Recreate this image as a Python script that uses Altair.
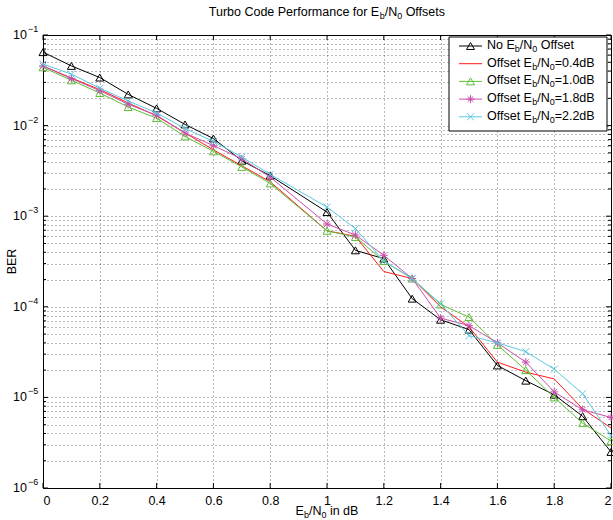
import altair as alt
import pandas as pd

# ---------------- data ----------------
x_vals = [0.0, 0.1, 0.2, 0.3, 0.4, 0.5, 0.6, 0.7, 0.8, 1.0,
          1.1, 1.2, 1.3, 1.4, 1.5, 1.6, 1.7, 1.8, 1.9, 2.0]
ber_no_offset = [0.0647, 0.0456, 0.0339, 0.0221, 0.0155, 0.0103, 0.0072, 0.0041, 0.0028, 0.00111,
                 0.00042, 0.00034, 0.000123, 7.2e-5, 5.6e-5, 2.25e-5, 1.53e-5, 1.07e-5, 6.2e-6, 2.5e-6]
ber_off_04 = [0.0455, 0.0335, 0.0250, 0.0178, 0.0128, 0.0083, 0.0054, 0.0036, 0.0024, 0.00069,
              0.00060, 0.000245, 0.000205, 0.000100, 6.0e-5, 2.45e-5, 1.9e-5, 1.6e-5, 7.5e-6, 4.6e-6]
ber_off_10 = [0.0440, 0.0316, 0.0229, 0.0160, 0.0121, 0.0076, 0.0052, 0.0035, 0.0023, 0.00069,
              0.00059, 0.00032, 0.000205, 0.000106, 7.7e-5, 3.8e-5, 2.0e-5, 1.0e-5, 5.2e-6, 3.3e-6]
ber_off_18 = [0.0456, 0.0330, 0.0243, 0.0172, 0.0130, 0.0083, 0.0060, 0.0043, 0.0027, 0.00082,
              0.00062, 0.00037, 0.000205, 7.5e-5, 6.2e-5, 4.0e-5, 2.45e-5, 1.15e-5, 7.3e-6, 6.0e-6]
ber_off_22 = [0.0477, 0.0370, 0.0259, 0.0187, 0.0138, 0.0093, 0.0067, 0.0045, 0.0029, 0.00126,
              0.00073, 0.00032, 0.000205, 0.000108, 4.8e-5, 4.0e-5, 3.2e-5, 2.05e-5, 1.1e-5, 3.8e-6]

x_ticks = [0, 0.2, 0.4, 0.6, 0.8, 1.0, 1.2, 1.4, 1.6, 1.8, 2.0]
y_major = [1e-6, 1e-5, 1e-4, 1e-3, 1e-2, 1e-1]
y_major_exp = ["\u22126", "\u22125", "\u22124", "\u22123", "\u22122", "\u22121"]
y_minor = [m * d for d in [1e-6, 1e-5, 1e-4, 1e-3, 1e-2] for m in range(2, 10)]

# ---------------- style ----------------
FONT = "Liberation Sans"
FS = 12.5
SUB_FS = 9
W, H = 568, 453

C_BLACK = "#000000"
C_RED = "#FF1A1A"
C_GREEN = "#5CBF33"
C_MAGENTA = "#C850AA"
C_CYAN = "#5AC8E0"

TRI = "triangle-up"
XSHAPE = "M-1,-1L1,1M-1,1L1,-1"
STAR = "M0,-1L0,1M-1,0L1,0M-0.7,-0.7L0.7,0.7M-0.7,0.7L0.7,-0.7"

xscale = alt.Scale(domain=[0, 2], nice=False, zero=False)
yscale = alt.Scale(type="log", domain=[1e-6, 1e-1], nice=False)

xaxis = alt.Axis(values=x_ticks, format="~g", title=None, grid=True,
                 gridDash=[1, 3], gridColor="#000000", gridOpacity=0.55, gridWidth=1,
                 ticks=False, tickSize=0, domain=False, labelFont=FONT,
                 labelFontSize=FS, labelColor="#000000", labelPadding=6)
yaxis = alt.Axis(values=y_major + y_minor, labels=False, title=None, grid=True,
                 gridDash=[1, 3], gridColor="#000000", gridOpacity=0.55, gridWidth=1,
                 ticks=False, tickSize=0, domain=False)

X = alt.X("x:Q", scale=xscale, axis=xaxis)
Y = alt.Y("ber:Q", scale=yscale, axis=yaxis)

layers = []

# ---------------- inward ticks ----------------
xt = alt.Chart(pd.DataFrame({"x": x_ticks}))
layers.append(xt.mark_rule(color="black", strokeWidth=1).encode(x=X, y=alt.value(H), y2=alt.value(H - 5)))
layers.append(xt.mark_rule(color="black", strokeWidth=1).encode(x=X, y=alt.value(0), y2=alt.value(5)))
ymj = alt.Chart(pd.DataFrame({"ber": y_major, "exp": y_major_exp}))
ymn = alt.Chart(pd.DataFrame({"ber": y_minor}))
layers.append(ymj.mark_rule(color="black", strokeWidth=1).encode(y=Y, x=alt.value(0), x2=alt.value(5)))
layers.append(ymj.mark_rule(color="black", strokeWidth=1).encode(y=Y, x=alt.value(W), x2=alt.value(W - 5)))
layers.append(ymn.mark_rule(color="black", strokeWidth=1).encode(y=Y, x=alt.value(0), x2=alt.value(3)))
layers.append(ymn.mark_rule(color="black", strokeWidth=1).encode(y=Y, x=alt.value(W), x2=alt.value(W - 3)))

# y labels 10^-k
layers.append(ymj.mark_text(font=FONT, fontSize=FS, align="right", baseline="middle", color="black")
              .encode(y=Y, x=alt.value(-16), text=alt.value("10")))
layers.append(ymj.mark_text(font=FONT, fontSize=SUB_FS, align="left", baseline="middle", dy=-6, color="black")
              .encode(y=Y, x=alt.value(-15), text="exp:N"))

# ---------------- series ----------------
series = [
    (ber_no_offset, C_BLACK, TRI, 64),
    (ber_off_04, C_RED, None, 0),
    (ber_off_10, C_GREEN, TRI, 64),
    (ber_off_18, C_MAGENTA, STAR, 64),
    (ber_off_22, C_CYAN, XSHAPE, 49),
]
for vals, col, shape, size in series:
    base = alt.Chart(pd.DataFrame({"x": x_vals, "ber": vals}))
    layers.append(base.mark_line(color=col, strokeWidth=1).encode(x=X, y=Y))
    if shape:
        layers.append(base.mark_point(shape=shape, size=size, filled=False, color=col,
                                      strokeWidth=1, opacity=1).encode(x=X, y=Y))

# ---------------- rich text helper ----------------
CW = {" ": 278, "/": 278, ".": 278, "=": 584, "B": 667, "C": 722, "E": 667, "N": 722,
      "O": 778, "P": 667, "R": 722, "T": 611, "a": 556, "b": 556, "c": 500, "d": 556,
      "e": 556, "f": 278, "i": 222, "m": 833, "n": 556, "o": 556, "r": 333, "s": 500,
      "t": 278, "u": 556}

dummy = alt.Chart(pd.DataFrame({"d": [0]}))


def tw(s, fs):
    return sum(CW.get(c, 556) for c in s) * fs / 1000.0


def rich(pieces, x, y, align="left"):
    total = sum(tw(t, SUB_FS if sub else FS) for t, sub in pieces)
    cur = x - total / 2 if align == "center" else x
    out = []
    for t, sub in pieces:
        fs = SUB_FS if sub else FS
        lead = len(t) - len(t.lstrip(" "))
        cur += tw(" " * lead, fs)
        body = t.lstrip(" ")
        out.append(dummy.mark_text(font=FONT, fontSize=fs, align="left", baseline="middle",
                                   color="black", dy=4 if sub else 0)
                   .encode(x=alt.value(cur), y=alt.value(y), text=alt.value(body)))
        cur += tw(body, fs)
    return out


# title
layers += rich([("Turbo Code Performance for E", False), ("b", True), ("/N", False), ("0", True),
                (" Offsets", False)], W / 2, -23, "center")
# x title
layers += rich([("E", False), ("b", True), ("/N", False), ("0", True), (" in dB", False)],
               W / 2, H + 23, "center")
# y title
layers.append(dummy.mark_text(font=FONT, fontSize=FS, angle=270, align="center", baseline="middle",
                              color="black")
              .encode(x=alt.value(-31), y=alt.value(H / 2), text=alt.value("BER")))

# ---------------- legend ----------------
LX0, LX1, LY0, LY1 = 406, 564, 2, 96
layers.append(dummy.mark_rect(fill="white", stroke="black", strokeWidth=1)
              .encode(x=alt.value(LX0), x2=alt.value(LX1), y=alt.value(LY0), y2=alt.value(LY1)))
legend_items = [
    ([("No E", False), ("b", True), ("/N", False), ("0", True), (" Offset", False)], C_BLACK, TRI, 64),
    ([("Offset E", False), ("b", True), ("/N", False), ("0", True), ("=0.4dB", False)], C_RED, None, 0),
    ([("Offset E", False), ("b", True), ("/N", False), ("0", True), ("=1.0dB", False)], C_GREEN, TRI, 64),
    ([("Offset E", False), ("b", True), ("/N", False), ("0", True), ("=1.8dB", False)], C_MAGENTA, STAR, 64),
    ([("Offset E", False), ("b", True), ("/N", False), ("0", True), ("=2.2dB", False)], C_CYAN, XSHAPE, 49),
]
for i, (pieces, col, shape, size) in enumerate(legend_items):
    ly = 11 + 17.7 * i
    layers.append(dummy.mark_rule(color=col, strokeWidth=1)
                  .encode(x=alt.value(416), x2=alt.value(439), y=alt.value(ly)))
    if shape:
        layers.append(dummy.mark_point(shape=shape, size=size, filled=False, color=col,
                                       strokeWidth=1, opacity=1)
                      .encode(x=alt.value(427.5), y=alt.value(ly)))
    layers += rich(pieces, 444, ly - 1)

chart = alt.layer(*layers).properties(
    width=W, height=H,
    autosize=alt.AutoSizeParams(type="none"),
    padding={"left": 43, "top": 35, "right": 2, "bottom": 32},
    background="white",
).configure_view(stroke="black", strokeWidth=1)

chart.save("out.html", embed_options={"renderer": "svg", "actions": False})
